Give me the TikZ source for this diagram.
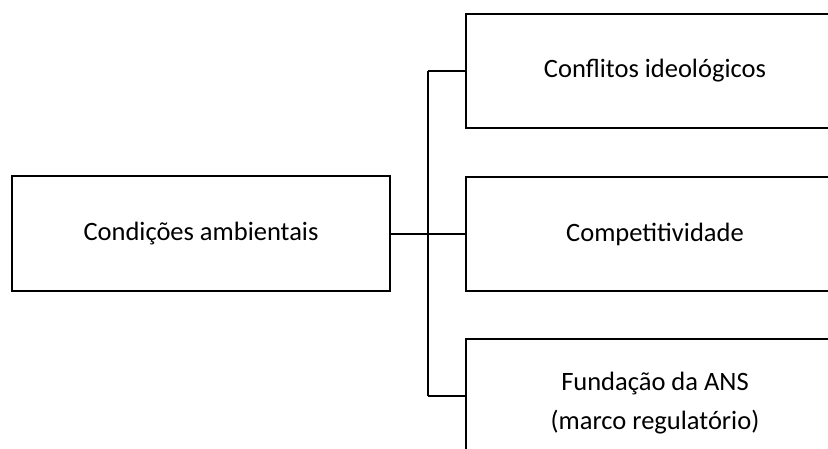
\documentclass[tikz,border=0pt]{standalone}
\usepackage{fontspec}
\setmainfont{Carlito}

\begin{document}
\begin{tikzpicture}[x=1pt,y=-1pt,
    caixa/.style={draw,line width=1.5pt,minimum width=378pt,minimum height=114pt,inner sep=0pt,align=center,font=\fontsize{26.5}{37}\selectfont},
    liga/.style={line width=1.5pt}]
            \useasboundingbox (0,0) rectangle (828,448);
            \clip (0,0) rectangle (828,448);
            \node[caixa,minimum height=115pt] (cond) at (201,233.5) {Condições ambientais};
            \node[caixa] (conf) at (655,71) {Conflitos ideológicos};
            \node[caixa] (comp) at (655,234) {Competitividade};
            \node[caixa] (fund) at (655,396) {};
            \node[font=\fontsize{26.5}{37}\selectfont,align=center,yshift=-7pt] (fundtxt) at (fund) {Fundação da ANS\\[2pt](marco regulatório)};
            \coordinate (bus) at (428,0);
            \draw[liga] (cond.east |- comp.west) -- (comp.west -| bus);
            \draw[liga] (conf.west -| bus) -- (fund.west -| bus);
            \foreach \n in {conf,comp,fund}
                \draw[liga] (\n.west) -- (\n.west -| bus);
        \end{tikzpicture}
\end{document}
